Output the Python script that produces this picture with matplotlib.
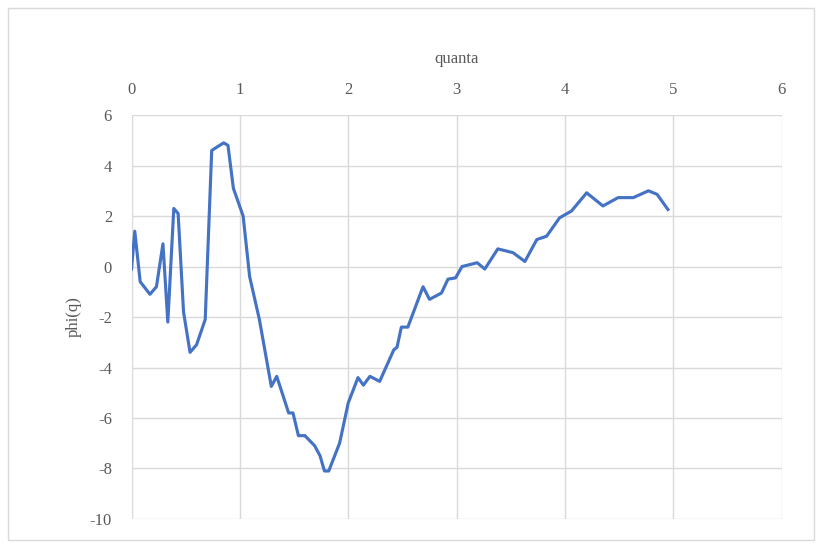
import matplotlib.pyplot as plt
from matplotlib.patches import Rectangle

quanta = [0.0, 0.03, 0.08, 0.17, 0.23, 0.29, 0.335, 0.39, 0.43, 0.48, 0.54, 0.6, 0.68,
          0.74, 0.85, 0.89, 0.94, 1.03, 1.09, 1.18, 1.29, 1.34, 1.45, 1.49, 1.54, 1.60,
          1.69, 1.74, 1.78, 1.82, 1.92, 2.0, 2.09, 2.14, 2.2, 2.29, 2.42, 2.45, 2.49,
          2.55, 2.69, 2.75, 2.86, 2.92, 2.99, 3.05, 3.19, 3.26, 3.38, 3.52, 3.63, 3.74,
          3.83, 3.95, 4.06, 4.2, 4.35, 4.49, 4.63, 4.77, 4.85, 4.95]
phi = [-0.1, 1.4, -0.6, -1.1, -0.8, 0.9, -2.2, 2.3, 2.1, -1.8, -3.4, -3.1, -2.1,
       4.6, 4.9, 4.8, 3.1, 2.0, -0.4, -2.1, -4.75, -4.35, -5.8, -5.8, -6.7, -6.7,
       -7.1, -7.5, -8.1, -8.1, -7.0, -5.4, -4.4, -4.7, -4.35, -4.55, -3.3, -3.2, -2.4,
       -2.4, -0.8, -1.3, -1.05, -0.5, -0.45, 0.0, 0.15, -0.1, 0.7, 0.55, 0.2, 1.07,
       1.2, 1.93, 2.2, 2.92, 2.4, 2.73, 2.73, 3.0, 2.86, 2.26]

plt.rcParams['font.family'] = ['Liberation Serif', 'DejaVu Serif']
plt.rcParams['axes.unicode_minus'] = False
grey = '#595959'

fig = plt.figure(figsize=(8.22, 5.48), dpi=100)
fig.patches.append(Rectangle((8 / 822, 8 / 548), 806 / 822, 532 / 548, transform=fig.transFigure,
                             fill=False, edgecolor='#D9D9D9', linewidth=1))
ax = fig.add_axes([0.160, 0.053, 0.791, 0.737])

ax.plot(quanta, phi, color='#4472C4', linewidth=2.25)

ax.set_xlim(0, 6)
ax.set_ylim(-10, 6)
ax.set_xticks(range(0, 7))
ax.set_yticks(range(-10, 7, 2))
ax.xaxis.tick_top()
ax.xaxis.set_label_position('top')
ax.grid(True, color='#D9D9D9', linewidth=1)
ax.set_axisbelow(True)
for s in ax.spines.values():
    s.set_visible(False)
ax.tick_params(length=0, colors=grey, labelsize=12)
ax.tick_params(axis='y', pad=14)
ax.tick_params(axis='x', pad=12)
ax.set_xlabel('quanta', color=grey, fontsize=12, labelpad=14)
ax.set_ylabel('phi(q)', color=grey, fontsize=12, labelpad=6)

fig.savefig('out.png', dpi=100)
